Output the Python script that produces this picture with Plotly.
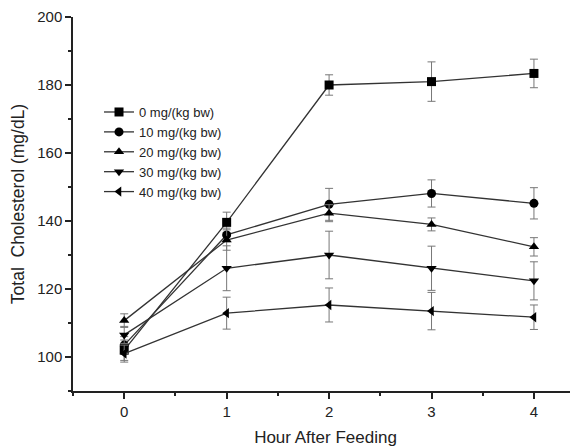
import plotly.graph_objects as go

hours = [0, 1, 2, 3, 4]
series_names = ["0 mg/(kg bw)", "10 mg/(kg bw)", "20 mg/(kg bw)", "30 mg/(kg bw)", "40 mg/(kg bw)"]
dose0 = [102.0, 139.6, 180.0, 181.0, 183.4]
dose0_err = [3.0, 3.0, 3.0, 5.8, 4.2]
dose10 = [103.5, 135.9, 144.9, 148.1, 145.2]
dose10_err = [2.5, 2.0, 4.7, 4.0, 4.6]
dose20 = [110.7, 134.4, 142.3, 139.0, 132.4]
dose20_err = [2.0, 3.0, 2.5, 1.9, 2.7]
dose30 = [106.5, 126.1, 130.0, 126.1, 122.4]
dose30_err = [2.5, 6.6, 7.0, 6.5, 5.6]
dose40 = [101.0, 112.9, 115.3, 113.5, 111.7]
dose40_err = [2.5, 4.7, 5.0, 5.5, 3.6]

values = [dose0, dose10, dose20, dose30, dose40]
errors = [dose0_err, dose10_err, dose20_err, dose30_err, dose40_err]
symbols = ["square", "circle", "triangle-up", "triangle-down", "triangle-left"]

fig = go.Figure()
for name, v, e, s in zip(series_names, values, errors, symbols):
    fig.add_trace(go.Scatter(
        x=hours, y=v, name=name, mode="lines+markers",
        line=dict(color="#333333", width=1.3),
        marker=dict(symbol=s, size=9, color="black"),
        error_y=dict(type="data", array=e, visible=True, color="#777777", thickness=1, width=4),
    ))

font = "Liberation Sans, Arial, sans-serif"
# page body has an 8px margin, so the figure is sized and placed to compensate
fig.update_layout(
    width=570, height=439,
    margin=dict(l=65, r=0, t=9, b=56, autoexpand=False),
    paper_bgcolor="white", plot_bgcolor="white",
    font=dict(family=font, size=15, color="#222222"),
    showlegend=True,
    legend=dict(x=0.0515, y=0.786, xanchor="left", yanchor="top",
                bgcolor="rgba(0,0,0,0)", font=dict(size=13, color="#222222"),
                tracegroupgap=0, itemwidth=30),
    xaxis=dict(range=[-0.5, 4.43], tickmode="array", tickvals=hours,
               ticktext=[str(h) for h in hours], automargin=False,
               showline=True, linecolor="#222222", linewidth=1.5,
               ticks="outside", ticklen=6, tickwidth=1.5, tickcolor="#222222",
               minor=dict(dtick=0.5, ticks="outside", ticklen=3, tickwidth=1.5, tickcolor="#222222"),
               showgrid=False, zeroline=False,
               title=dict(text="Hour After Feeding", font=dict(size=17))),
    yaxis=dict(range=[90, 200], tick0=100, dtick=20, automargin=False,
               showline=True, linecolor="#222222", linewidth=1.5,
               ticks="outside", ticklen=6, tickwidth=1.5, tickcolor="#222222",
               minor=dict(dtick=10, ticks="outside", ticklen=3, tickwidth=1.5, tickcolor="#222222"),
               showgrid=False, zeroline=False,
               title=dict(text="Total\u00a0 Cholesterol (mg/dL)", font=dict(size=17.5))),
)
fig.write_html("out.html")
